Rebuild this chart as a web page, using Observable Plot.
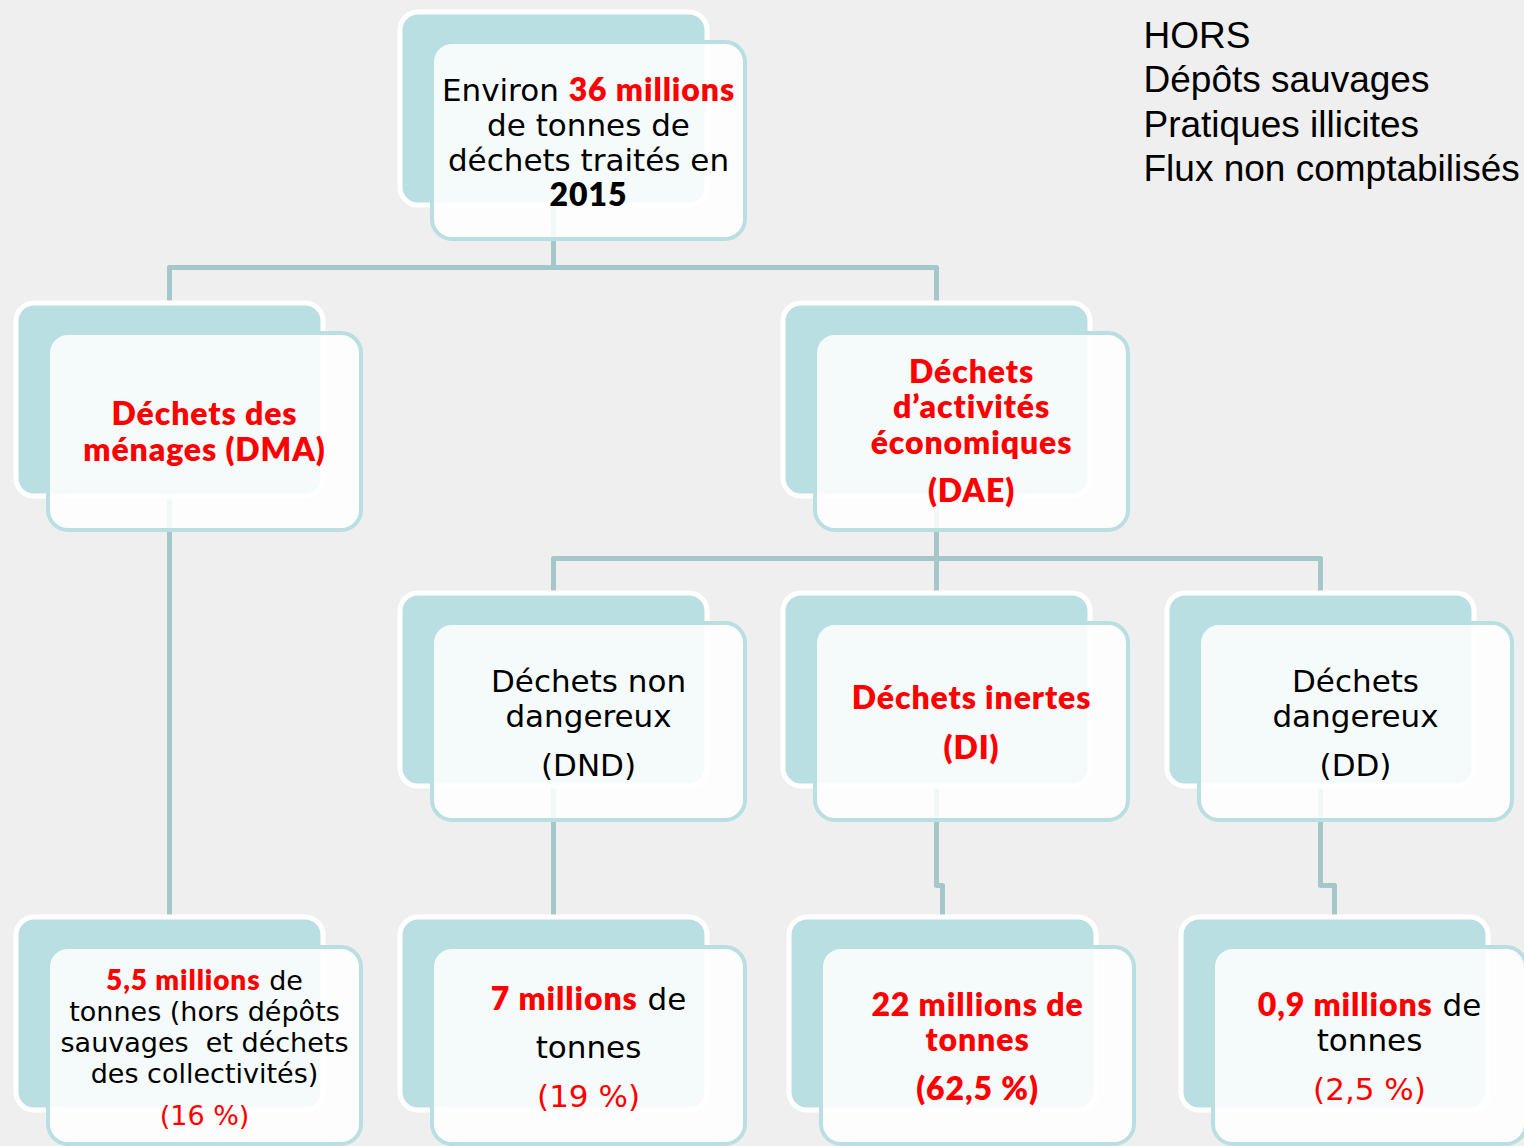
<!DOCTYPE html>
<html>
<head>
<meta charset="utf-8">
<script src="https://cdn.jsdelivr.net/npm/d3@7"></script>
<script src="https://cdn.jsdelivr.net/npm/@observablehq/plot@0.6"></script>
<style>
  html, body { margin: 0; padding: 0; background: #efefef; }
  #chart svg { display: block; }
</style>
</head>
<body>
<div id="chart"></div>
<script>
// ---- Data ----
const nodeIds = ["root", "dma", "dae", "dnd", "di", "dd", "b_dma", "b_dnd", "b_di", "b_dd"];
const nodeParents = [null, "root", "root", "dae", "dae", "dae", "dma", "dnd", "di", "dd"];
// markup: *red bold*, _red regular_, #black bold#
const nodeLines = [
  ["Environ *36 millions*", "de tonnes de", "déchets traités en", "#2015#"],
  ["*Déchets des*", "*ménages (DMA)*"],
  ["*Déchets*", "*d’activités*", "*économiques*", "*(DAE)*"],
  ["Déchets non", "dangereux", "(DND)"],
  ["*Déchets inertes*", "*(DI)*"],
  ["Déchets", "dangereux", "(DD)"],
  ["*5,5 millions* de", "tonnes (hors dépôts", "sauvages  et déchets", "des collectivités)", "_(16 %)_"],
  ["*7 millions* de", "tonnes", "_(19 %)_"],
  ["*22 millions de*", "*tonnes*", "*(62,5 %)*"],
  ["*0,9 millions* de", "tonnes", "_(2,5 %)_"]
];
const horsLines = ["HORS", "Dépôts sauvages", "Pratiques illicites", "Flux non comptabilisés"];

// ---- Layout (positions kept apart from data) ----
const boxLeft = [400, 16, 783, 400, 783, 1167, 16, 400, 789, 1181];
const boxTop = [12, 303, 303, 593, 593, 593, 917, 917, 917, 917];
const textFirst = [88, 121, 79, 98, 115, 98, 72, 92, 98, 98];
const textStep = [35, 36, 35.5, 35, 50, 35, 31, 48.5, 35, 35];
const textLastExtra = [0, 0, 13, 14, 0, 14, 11, 0, 14, 14];
const textSize = [31, 31, 31, 31, 31, 31, 27, 31, 31, 31];
const BACK_W = 307, BACK_H = 193, FRONT_DX = 32, FRONT_DY = 30, FRONT_W = 313, FRONT_H = 197;
const TEAL = "#b9dfe2", LINK = "#a6c7ca", RED = "#ff0000";

const nodes = nodeIds.map((id, i) => ({
  id, parent: nodeParents[i], left: boxLeft[i], top: boxTop[i], row: [0,1,1,2,2,2,3,3,3,3][i]
}));
const byId = new Map(nodes.map(n => [n.id, n]));

const backs = nodes.map(n => ({x1: n.left, x2: n.left + BACK_W, y1: n.top, y2: n.top + BACK_H}));
const fronts = nodes.map(n => ({x1: n.left + FRONT_DX, x2: n.left + FRONT_DX + FRONT_W, y1: n.top + FRONT_DY, y2: n.top + FRONT_DY + FRONT_H}));

const linkPts = [];
nodes.forEach(c => {
  if (!c.parent) return;
  const p = byId.get(c.parent);
  const px = p.left + 153, cx = c.left + 153;
  const pBottom = p.top + FRONT_DY + FRONT_H;
  const midY = pBottom + (c.row === 3 ? 65 : 28);
  const pts = [[px, p.top + BACK_H - 5], [px, midY], [cx, midY], [cx, c.top + 5]];
  pts.forEach(([x, y]) => linkPts.push({id: c.id, x, y}));
});

const textRows = [];
nodeLines.forEach((lines, i) => {
  const n = nodes[i];
  lines.forEach((t, j) => {
    const extra = (j === lines.length - 1 && j > 0) ? textLastExtra[i] : 0;
    textRows.push({
      text: t,
      x: n.left + 188,
      y: n.top + textFirst[i] + j * textStep[i] + extra,
      size: textSize[i]
    });
  });
});
const horsRows = horsLines.map((t, j) => ({text: t, x: 1143, y: 47 + j * 44.5}));

const chart = Plot.plot({
  width: 1524, height: 1146, margin: 0,
  x: {domain: [0, 1524], range: [0, 1524], axis: null},
  y: {domain: [0, 1146], range: [0, 1146], axis: null},
  style: {background: "transparent"},
  marks: [
    Plot.line(linkPts, {x: "x", y: "y", z: "id", stroke: LINK, strokeWidth: 5, strokeLinejoin: "round", curve: "linear"}),
    Plot.rect(backs, {x1: "x1", x2: "x2", y1: "y1", y2: "y2", fill: TEAL, stroke: "white", strokeWidth: 5, rx: 18}),
    Plot.rect(fronts, {x1: "x1", x2: "x2", y1: "y1", y2: "y2", fill: "white", fillOpacity: 0.86, stroke: TEAL, strokeWidth: 4, rx: 20}),
    Plot.text(textRows, {x: "x", y: "y", text: "text", fontSize: d => d.size, textAnchor: "middle", lineAnchor: "bottom", fill: "black", fontFamily: "DejaVu Sans", className: "boxtext"}),
    Plot.text(horsRows, {x: "x", y: "y", text: "text", fontSize: 37, textAnchor: "start", lineAnchor: "bottom", fill: "black", fontFamily: "Liberation Sans, Arial, sans-serif"})
  ]
});

// turn markup into coloured / bold tspans
d3.select(chart).selectAll("g.boxtext text").each(function () {
  const s = this.textContent;
  if (!/[*_#]/.test(s)) return;
  const base = parseFloat(getComputedStyle(this).fontSize) || parseFloat(this.getAttribute("font-size")) || 31;
  const parts = s.split(/(\*[^*]+\*|_[^_]+_|#[^#]+#)/).filter(p => p.length);
  const el = d3.select(this);
  el.text(null);
  parts.forEach(p => {
    const ts = el.append("tspan");
    if (p[0] === "*" || p[0] === "#") {
      ts.text(p.slice(1, -1))
        .attr("fill", p[0] === "*" ? RED : "black")
        .attr("font-weight", 800)
        .attr("font-family", "Lato")
        .style("letter-spacing", "0.9px");
    } else if (p[0] === "_") {
      ts.text(p.slice(1, -1)).attr("fill", RED);
    } else {
      ts.text(p);
    }
  });
});
// bold segments slightly larger (heavier face of the original)
d3.select(chart).selectAll("g.boxtext text tspan[font-weight='800']").each(function () {
  const t = this.parentNode;
  const fs = parseFloat(t.getAttribute("font-size")) || 31;
  d3.select(this).attr("font-size", fs + 1);
});

document.getElementById("chart").appendChild(chart);
</script>
</body>
</html>
